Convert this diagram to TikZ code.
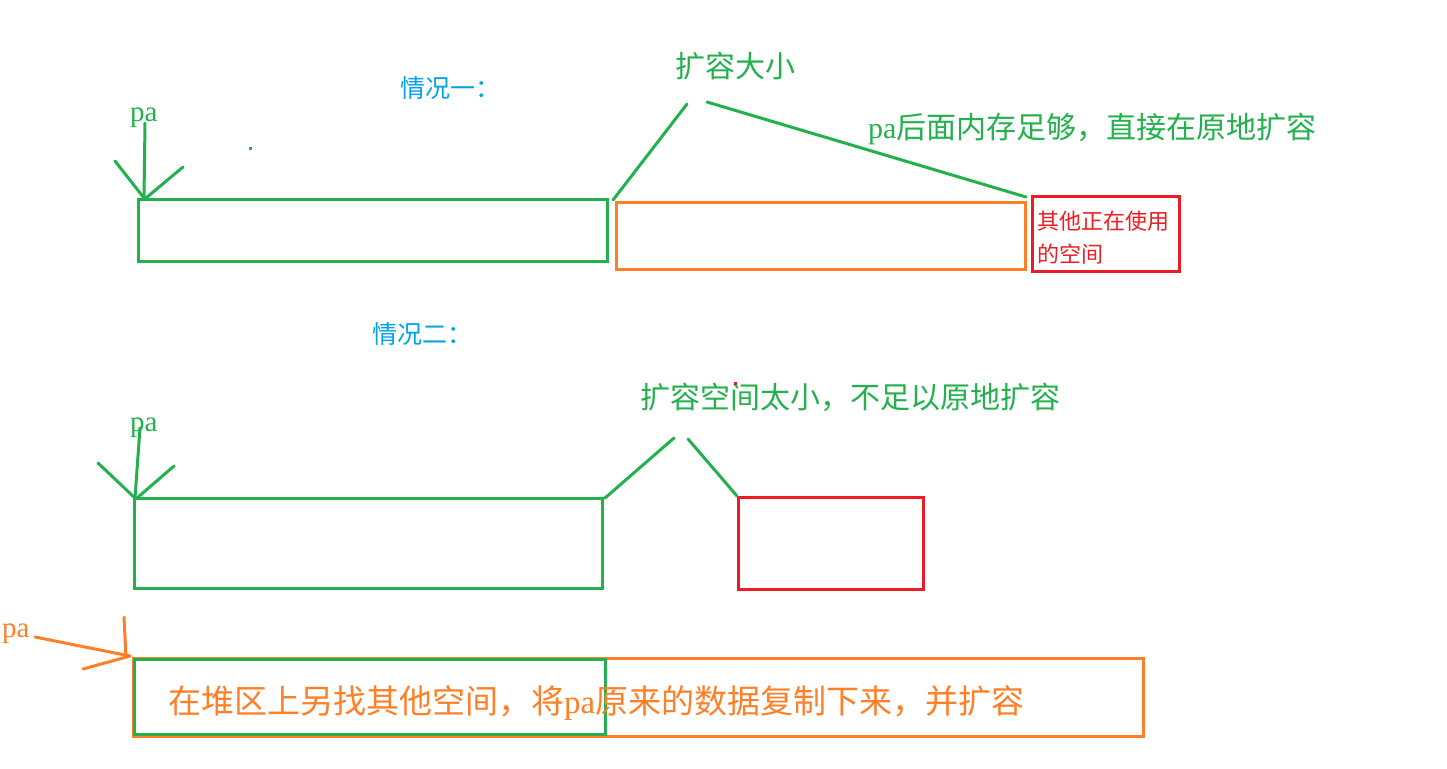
\documentclass[tikz,border=0pt]{standalone}
\usepackage{fontspec}
\setmainfont{Liberation Serif}
\newfontfamily\cjk{Noto Sans CJK SC}
\definecolor{pgreen}{RGB}{34,177,76}
\definecolor{porange}{RGB}{255,127,39}
\definecolor{pred}{RGB}{237,28,36}
\definecolor{pblue}{RGB}{0,162,232}
\begin{document}
\begin{tikzpicture}[x=1pt,y=-1pt,
  box/.style={draw,line width=3pt,inner sep=0pt,outer sep=0pt,anchor=north west},
  stroke/.style={line width=3pt,line cap=round},
  lbl/.style={inner sep=0pt,anchor=west},
  big/.style={font=\fontsize{30}{36}\selectfont},
  head/.style={font=\fontsize{25}{30}\selectfont,text=pblue},
]
\useasboundingbox (0,0) rectangle (1447,768);

% ---------- case 1 ----------
\node[lbl,head] (h1) at (400,88) {\cjk 情况一：};
\node[lbl,text=pgreen,font=\fontsize{29}{34}\selectfont] (pa1) at (130,118) {pa};
\fill[pgreen] (248.5,146.5) rectangle (251.5,149.5);

\node[box,pgreen,minimum width=469pt,minimum height=62pt] (g1) at (138,199) {};
\node[box,porange,minimum width=409pt,minimum height=67pt] (o1) at (616,202) {};
\node[box,pred,minimum width=147pt,minimum height=75pt] (r1) at (1032,196) {};
\node[inner sep=0pt,anchor=north west,align=left,text=pred,font=\fontsize{22}{33}\selectfont] (r1t) at (1037,211) {\cjk 其他正在使用\\\cjk 的空间};

\coordinate (a1top) at (145,123);
\coordinate (a1tip) at (144,198);
\coordinate (a1l) at (115,161);
\coordinate (a1r) at (183,167);
\draw[stroke,pgreen] (a1top) -- (a1tip);
\draw[stroke,pgreen] (a1l) -- (a1tip);
\draw[stroke,pgreen] (a1r) -- (146,198);

\node[lbl,big,text=pgreen] (t1) at (675,66) {\cjk 扩容大小};
\coordinate (b1a) at (613,200);
\coordinate (b1b) at (687,104);
\coordinate (b1c) at (707,102);
\coordinate (b1d) at (1026,197);
\draw[stroke,pgreen] (b1a) -- (b1b);
\draw[stroke,pgreen] (b1c) -- (b1d);
\node[lbl,big,text=pgreen] (t2) at (868,129) {pa{\cjk 后面内存足够，直接在原地扩容}};

% ---------- case 2 ----------
\node[lbl,head] (h2) at (372,334) {\cjk 情况二：};
\node[lbl,big,text=pgreen] (t3) at (640,397) {\cjk 扩容空间太小，不足以原地扩容};
\fill[pred] (734,381.5) rectangle (737,384.5);
\node[lbl,text=pgreen,font=\fontsize{29}{34}\selectfont] (pa2) at (130,428) {pa};

\node[box,pgreen,minimum width=468pt,minimum height=90pt] (g2) at (134,498) {};
\node[box,pred,minimum width=185pt,minimum height=92pt] (r2) at (738,497) {};

\coordinate (a2top) at (140,428);
\coordinate (a2tip) at (135,498);
\coordinate (a2l) at (98,463);
\coordinate (a2r) at (174,466);
\draw[stroke,pgreen] (a2top) -- (a2tip);
\draw[stroke,pgreen] (a2l) -- (a2tip);
\draw[stroke,pgreen] (a2r) -- (137,498);

\coordinate (b2a) at (605,498);
\coordinate (b2b) at (674,438);
\coordinate (b2c) at (688,439);
\coordinate (b2d) at (737,496);
\draw[stroke,pgreen] (b2a) -- (b2b);
\draw[stroke,pgreen] (b2c) -- (b2d);

% ---------- new block ----------
\node[box,porange,minimum width=1010pt,minimum height=78pt] (o2) at (133,658) {};
\node[box,pgreen,minimum width=471pt,minimum height=75pt] (g3) at (134,659) {};
\node[lbl,text=porange,font=\fontsize{29}{34}\selectfont] (pa3) at (2,634) {pa};
\coordinate (a3s) at (35,637);
\coordinate (a3tip) at (130,656);
\coordinate (a3w) at (83,669);
\coordinate (a3v) at (124,617);
\draw[stroke,porange] (a3s) -- (a3tip);
\draw[stroke,porange] (a3w) -- (a3tip);
\draw[stroke,porange] (a3v) -- (126,657);
\node[lbl,text=porange,font=\fontsize{33}{38}\selectfont] (t4) at (168,703) {{\cjk 在堆区上另找其他空间，将}pa{\cjk 原来的数据复制下来，并扩容}};
\end{tikzpicture}
\end{document}
